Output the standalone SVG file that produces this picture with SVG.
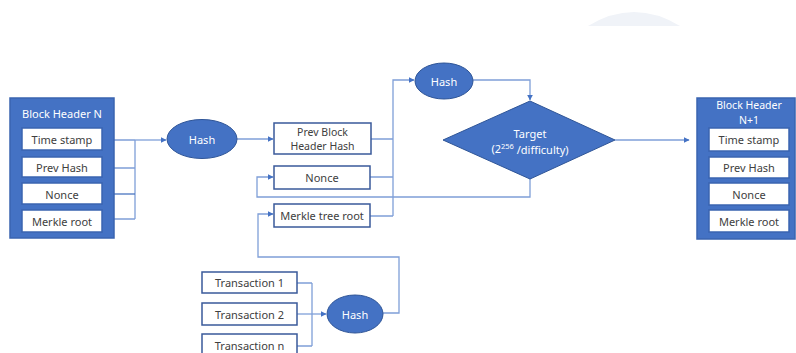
<svg xmlns="http://www.w3.org/2000/svg" width="796" height="353" viewBox="0 0 796 353">
<defs>
<style>
.blk{fill:#4472c4;stroke:#3a64b0;stroke-width:1.5}
.wb{fill:#fff;stroke:#3a64b0;stroke-width:1.5}
.ob{fill:#fff;stroke:#3a5a9a;stroke-width:1.5}
.sh{fill:#4472c4;stroke:#2f5597;stroke-width:1}
.t{font-family:"Noto Sans","Open Sans",sans-serif;font-size:11px;fill:#404040;text-anchor:middle;dominant-baseline:central}
.tw{font-family:"Noto Sans","Open Sans",sans-serif;font-size:11px;fill:#fff;text-anchor:middle;dominant-baseline:central}
.s{font-size:10.5px}
.c{fill:none;stroke:#7f9fd8;stroke-width:1.3}
</style>
<marker id="ah" viewBox="0 0 10 10" refX="9" refY="5" markerWidth="6" markerHeight="6" orient="auto" markerUnits="userSpaceOnUse">
<path d="M0,0 L10,5 L0,10 z" fill="#4472c4"/>
</marker>
</defs>
<rect width="796" height="353" fill="#fff"/>
<path d="M588,26 Q634,-2 680,26 Z" fill="#f0f3f8"/>

<g id="connectors">
<path class="c" d="M114,140 H135 M114,168 H135 M114,219 H135 M135,140 V219" />
<path d="M114,194 H135" fill="none" stroke="#4a74c0" stroke-width="1.3"/>
<path class="c" d="M135,140 H166" marker-end="url(#ah)"/>
<path class="c" d="M237,139 H273" marker-end="url(#ah)"/>
<path class="c" d="M371,139 H393 M370,177 H393 M370,216 H393 M393,216 V80 H414" marker-end="url(#ah)"/>
<path class="c" d="M473,80 H530 V100" marker-end="url(#ah)"/>
<path class="c" d="M530,178 V197 H257 V177 H273" marker-end="url(#ah)"/>
<path class="c" d="M615,140 H689" marker-end="url(#ah)"/>
<path class="c" d="M383,313 H399 V257 H258 V214 H273" marker-end="url(#ah)"/>
<path class="c" d="M297,283 H312 M297,346 H312 M312,283 V346"/>
<path class="c" d="M297,314 H326" marker-end="url(#ah)"/>
</g>

<g id="block-header-n">
<rect class="blk" x="10" y="98" width="104" height="140"/>
<text class="tw" x="62" y="113">Block Header N</text>
<rect class="wb" x="22" y="128" width="80" height="22"/>
<text class="t" x="62" y="139">Time stamp</text>
<rect class="wb" x="22" y="157" width="80" height="20"/>
<text class="t" x="62" y="167.5">Prev Hash</text>
<rect class="wb" x="22" y="183" width="80" height="21"/>
<text class="t" x="62" y="194">Nonce</text>
<rect class="wb" x="22" y="210" width="80" height="22"/>
<text class="t" x="62" y="221">Merkle root</text>
</g>

<g id="hash1">
<ellipse class="sh" cx="202" cy="139" rx="35" ry="19.5"/>
<text class="tw" x="202" y="139">Hash</text>
</g>

<g id="prev-block-header-hash">
<rect class="ob" x="274" y="123" width="97" height="31"/>
<text class="t s" x="322.5" y="131.5">Prev Block</text>
<text class="t s" x="322.5" y="146">Header Hash</text>
</g>

<g id="nonce">
<rect class="ob" x="274" y="166" width="96" height="23"/>
<text class="t" x="322" y="177.5">Nonce</text>
</g>

<g id="merkle-tree-root">
<rect class="ob" x="274" y="204" width="96" height="23"/>
<text class="t" x="322" y="215.5">Merkle tree root</text>
</g>

<g id="hash2">
<ellipse class="sh" cx="444" cy="81" rx="29" ry="18"/>
<text class="tw" x="444" y="81">Hash</text>
</g>

<g id="target">
<polygon class="sh" points="530,101 615,140 530,179 443,140"/>
<text class="tw" x="530" y="133.5">Target</text>
<text class="tw" x="530" y="148.5">(2<tspan font-size="7.5" dy="-3">256</tspan><tspan dy="3"> /difficulty)</tspan></text>
</g>

<g id="block-header-n1">
<rect class="blk" x="697" y="98" width="98" height="141"/>
<text class="tw s" x="749" y="105">Block Header</text>
<text class="tw s" x="749" y="119.5">N+1</text>
<rect class="wb" x="709" y="128" width="80" height="23"/>
<text class="t" x="749" y="139.5">Time stamp</text>
<rect class="wb" x="709" y="157" width="80" height="21"/>
<text class="t" x="749" y="167.5">Prev Hash</text>
<rect class="wb" x="709" y="183" width="80" height="22"/>
<text class="t" x="749" y="194">Nonce</text>
<rect class="wb" x="709" y="210" width="80" height="22"/>
<text class="t" x="749" y="221">Merkle root</text>
</g>

<g id="transaction-1">
<rect class="ob" x="202" y="272" width="95" height="21"/>
<text class="t" x="249.5" y="282.5">Transaction 1</text>
</g>
<g id="transaction-2">
<rect class="ob" x="202" y="303" width="95" height="22"/>
<text class="t" x="249.5" y="314">Transaction 2</text>
</g>
<g id="transaction-n">
<rect class="ob" x="202" y="334" width="95" height="24"/>
<text class="t" x="249.5" y="345.5">Transaction n</text>
</g>

<g id="hash3">
<ellipse class="sh" cx="355" cy="314" rx="28" ry="19"/>
<text class="tw" x="355" y="314">Hash</text>
</g>
</svg>
